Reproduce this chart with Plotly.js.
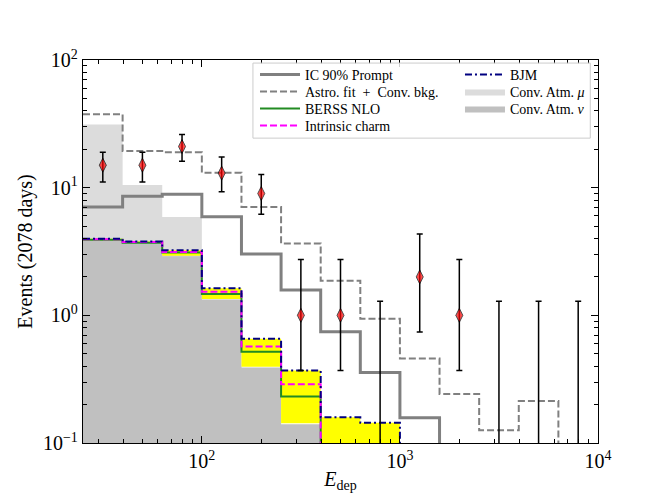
<!DOCTYPE html>
<html>
<head>
<meta charset="utf-8">
<script src="https://cdn.plot.ly/plotly-3.0.1.min.js"></script>
<style>html,body{margin:0;padding:0;background:#fff;}#chart{width:664px;height:498px;}</style>
</head>
<body>
<div id="chart"></div>
<script>
// Bin edges (GeV) and bin centers
var binEdges = [25.12, 39.81, 63.10, 100, 158.5, 251.2, 398.1, 631.0, 1000, 1585, 2512, 3981, 6310, 10000];
var binCenters = [31.62, 50.12, 79.43, 125.9, 199.5, 316.2, 501.2, 794.3, 1259, 1995, 3162, 5012, 7943];

// Model histograms (events per bin); values below 0.1 fall off the plot
var icPrompt = [7.07, 8.58, 8.9, 5.91, 3.02, 1.58, 0.745, 0.356, 0.158, 0.001, 0.001, 0.001, 0.001];
var astroConv = [37.6, 19.4, 18.9, 13.1, 7.07, 3.66, 1.87, 0.94, 0.46, 0.242, 0.126, 0.213, 0.01];
var berssNLO = [3.9, 3.7, 3.1, 1.47, 0.519, 0.231, 0.05, 0.03, 0.001, 0.001, 0.001, 0.001, 0.001];
var intrinsicCharm = [3.95, 3.75, 3.13, 1.53, 0.569, 0.288, 0.06, 0.04, 0.001, 0.001, 0.001, 0.001, 0.001];
var bjm = [3.98, 3.79, 3.24, 1.63, 0.656, 0.369, 0.159, 0.144, 0.001, 0.001, 0.001, 0.001, 0.001];
var bandLower = [3.88, 3.68, 2.93, 1.34, 0.396, 0.143, 0.01, 0.01, 0.001, 0.001, 0.001, 0.001, 0.001];
var convMu = [31.2, 10.5, 5.9, 1.0, 0.3, 0.1, 0.03, 0.01, 0.001, 0.001, 0.001, 0.001, 0.001];
var convNu = [3.83, 3.65, 2.9, 1.33, 0.39, 0.14, 0.01, 0.001, 0.001, 0.001, 0.001, 0.001, 0.001];

// Observed events and 68% intervals
var counts = [15, 15, 21, 13, 9, 1, 1, 0, 2, 1, 0, 0, 0];
var errUp = [3.9, 3.9, 5.1, 4.4, 3.7, 1.74, 1.74, 1.29, 2.33, 1.74, 1.29, 1.29, 1.29];
var errDown = [3.9, 3.9, 4.9, 3.7, 2.8, 0.63, 0.63, 0, 1.26, 0.63, 0, 0, 0];

var xTickVals = [100, 1000, 10000];
var xTickText = ['10<sup>2</sup>', '10<sup>3</sup>', '10<sup>4</sup>'];
var yTickVals = [0.1, 1, 10, 100];
var yTickText = ['10<sup>\u22121</sup>', '10<sup>0</sup>', '10<sup>1</sup>', '10<sup>2</sup>'];

function stepY(v) { return v.concat([v[v.length - 1]]); }
var floorVal = 1e-4;
var baseline = binEdges.map(function () { return floorVal; });

var traces = [];
// Conv atm mu (light gray fill)
traces.push({x: binEdges, y: baseline, mode: 'lines', line: {width: 0, shape: 'hv'}, showlegend: false, hoverinfo: 'skip'});
traces.push({x: binEdges, y: stepY(convMu), mode: 'lines', fill: 'tonexty', fillcolor: '#dcdcdc',
  line: {width: 0, shape: 'hv'}, name: 'Conv. Atm. <i>\u03bc</i>', legend: 'legend6'});
// Conv atm nu (darker gray fill)
traces.push({x: binEdges, y: baseline, mode: 'lines', line: {width: 0, shape: 'hv'}, showlegend: false, hoverinfo: 'skip'});
traces.push({x: binEdges, y: stepY(convNu), mode: 'lines', fill: 'tonexty', fillcolor: '#c0c0c0',
  line: {width: 0, shape: 'hv'}, name: 'Conv. Atm. <i>\u03bd</i>', legend: 'legend7'});
// Yellow uncertainty band
traces.push({x: binEdges, y: stepY(bandLower), mode: 'lines', line: {width: 0, shape: 'hv'}, showlegend: false, hoverinfo: 'skip'});
traces.push({x: binEdges, y: stepY(bjm), mode: 'lines', fill: 'tonexty', fillcolor: '#ffff00',
  line: {width: 0, shape: 'hv'}, showlegend: false, hoverinfo: 'skip'});
// Lines
traces.push({x: binEdges, y: stepY(icPrompt), mode: 'lines', name: 'IC 90% Prompt',
  line: {color: '#808080', width: 3, shape: 'hv'}, legend: 'legend'});
traces.push({x: binEdges, y: stepY(astroConv), mode: 'lines', name: 'Astro. fit  +  Conv. bkg.',
  line: {color: '#808080', width: 2, dash: '7px,3px', shape: 'hv'}, legend: 'legend2'});
traces.push({x: binEdges, y: stepY(berssNLO), mode: 'lines', name: 'BERSS NLO',
  line: {color: '#228b22', width: 2, shape: 'hv'}, legend: 'legend3'});
traces.push({x: binEdges, y: stepY(intrinsicCharm), mode: 'lines', name: 'Intrinsic charm',
  line: {color: '#ff00ff', width: 2, dash: '7px,3px', shape: 'hv'}, legend: 'legend4'});
traces.push({x: binEdges, y: stepY(bjm), mode: 'lines', name: 'BJM',
  line: {color: '#000080', width: 2, dash: '7px,3px,2px,3px', shape: 'hv'}, legend: 'legend5'});

// Data points
var dataY = counts.map(function (c) { return c > 0 ? c : floorVal; });
var upArr = counts.map(function (c, i) { return c + errUp[i] - dataY[i]; });
var downArr = counts.map(function (c, i) { return c > 0 ? errDown[i] : 0; });
var markerSize = counts.map(function (c) { return c > 0 ? 10 : 0; });
traces.push({x: binCenters, y: dataY, mode: 'markers', showlegend: false,
  marker: {symbol: 'diamond-tall', color: '#ff0000', size: markerSize, line: {color: '#000', width: 1}},
  error_y: {type: 'data', symmetric: false, array: upArr, arrayminus: downArr, color: '#000', thickness: 1.5, width: 3}});

var minorX = [];
[10, 100, 1000].forEach(function (d) { for (var k = 2; k <= 9; k++) minorX.push(k * d); });
var minorY = [];
[0.1, 1, 10].forEach(function (d) { for (var k = 2; k <= 9; k++) minorY.push(k * d); });

var fontFam = 'Liberation Serif, DejaVu Serif, serif';
// legend slot positions (paper coords)
var plotTop = 60, plotH = 383;
function rowY(px) { return 1 - (px - plotTop) / plotH; }
function legendAt(xp, ypx) {
  return {x: xp, y: rowY(ypx), xanchor: 'left', yanchor: 'middle', bgcolor: 'rgba(0,0,0,0)',
    borderwidth: 0, font: {size: 14, family: fontFam}, itemwidth: 40, tracegroupgap: 0};
}
var c1 = 0.334, c2 = 0.732;
var layout = {
  width: 664, height: 498,
  margin: {l: 83, r: 66, t: 60, b: 55},
  paper_bgcolor: '#fff', plot_bgcolor: '#fff',
  font: {family: fontFam, color: '#000'},
  xaxis: {type: 'log', range: [Math.log10(25.12), 4], showgrid: false, zeroline: false,
    showline: true, linecolor: '#000', linewidth: 1.2, mirror: 'allticks',
    ticks: 'inside', ticklen: 7, tickwidth: 1, tickcolor: '#000',
    tickmode: 'array', tickvals: xTickVals, ticktext: xTickText, tickfont: {size: 20, family: fontFam},
    minor: {tickmode: 'array', tickvals: minorX, ticks: 'inside', ticklen: 4, tickcolor: '#000', showgrid: false},
    title: {text: '<i>E</i><sub>dep</sub>', font: {size: 20, family: fontFam}, standoff: 0}},
  yaxis: {type: 'log', range: [-1, 2], showgrid: false, zeroline: false,
    showline: true, linecolor: '#000', linewidth: 1.2, mirror: 'allticks',
    ticks: 'inside', ticklen: 7, tickwidth: 1, tickcolor: '#000',
    tickmode: 'array', tickvals: yTickVals, ticktext: yTickText, tickfont: {size: 20, family: fontFam},
    minor: {tickmode: 'array', tickvals: minorY, ticks: 'inside', ticklen: 4, tickcolor: '#000', showgrid: false},
    title: {text: 'Events (2078 days)', font: {size: 20, family: fontFam}, standoff: 4}},
  legend: legendAt(c1, 75),
  legend2: legendAt(c1, 92),
  legend3: legendAt(c1, 109),
  legend4: legendAt(c1, 126),
  legend5: legendAt(c2, 75),
  legend6: legendAt(c2, 92),
  legend7: legendAt(c2, 109),
  shapes: [{type: 'rect', xref: 'paper', yref: 'paper', x0: 0.33, x1: 0.985, y0: 0.796, y1: 0.992,
    line: {color: '#cccccc', width: 1}, fillcolor: 'rgba(255,255,255,0.8)', layer: 'above'}]
};

Plotly.newPlot('chart', traces, layout, {displayModeBar: false, staticPlot: true});
</script>
</body>
</html>
